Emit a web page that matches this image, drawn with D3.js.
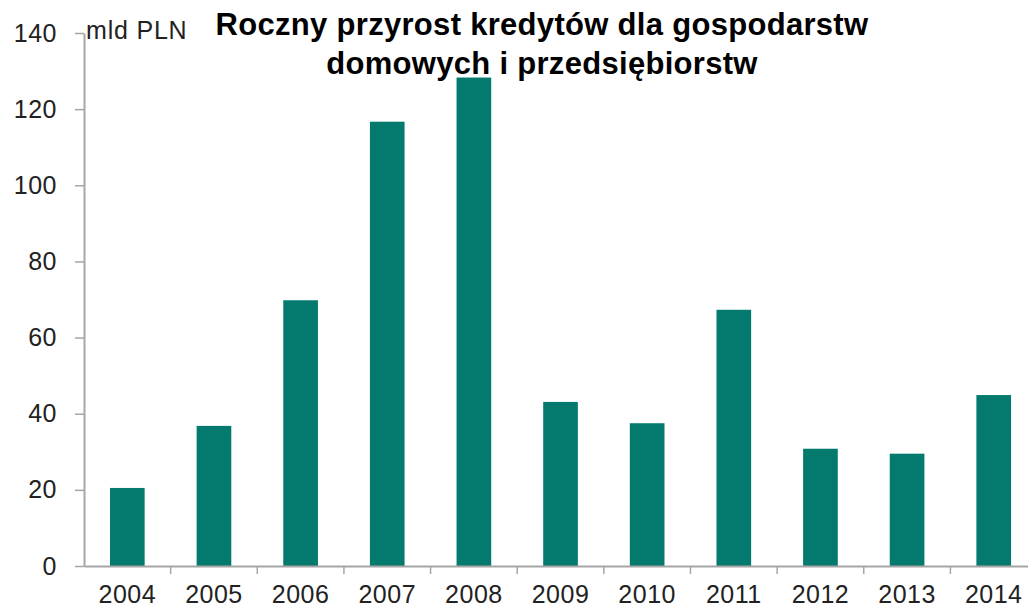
<!DOCTYPE html>
<html>
<head>
<meta charset="utf-8">
<script src="https://cdn.jsdelivr.net/npm/d3@7"></script>
<style>
  body { margin: 0; background: #fff; }
  text { font-family: "Liberation Sans", Arial, sans-serif; }
</style>
</head>
<body>
<div id="chart-area"></div>
<script>
const years = ["2004", "2005", "2006", "2007", "2008", "2009", "2010", "2011", "2012", "2013", "2014"];
const growth = [20.5, 36.8, 69.8, 116.7, 128.3, 43.1, 37.5, 67.3, 30.8, 29.5, 44.9];
const yTicks = [0, 20, 40, 60, 80, 100, 120, 140];
const titleLines = ["Roczny przyrost kredytów dla gospodarstw", "domowych i przedsiębiorstw"];
const unitLabel = "mld PLN";

const WIDTH = 1028;
const HEIGHT = 608;
const margin = { left: 84, top: 33, bottom: 42 };
const plotW = 11 * 86.64;
const plotH = HEIGHT - margin.top - margin.bottom;
const axisColor = "#a6a6a6";
const barColor = "#037a6d";

const svg = d3.select("#chart-area").append("svg").attr("width", WIDTH).attr("height", HEIGHT);
const group = svg.append("g").attr("transform", `translate(${margin.left},${margin.top})`);

const x = d3.scaleBand().domain(years).range([0, plotW]).paddingInner(0.6).paddingOuter(0.3);
const y = d3.scaleLinear().domain([0, 140]).range([plotH, 0]);

// bars
group.selectAll("rect").data(years).enter().append("rect")
    .attr("x", d => x(d))
    .attr("y", (d, i) => y(growth[i]))
    .attr("width", x.bandwidth())
    .attr("height", (d, i) => plotH - y(growth[i]))
    .attr("fill", barColor);

// y axis
const yAxisCall = d3.axisLeft(y).tickValues(yTicks).tickSizeInner(9).tickSizeOuter(0).tickPadding(18);
const yAxis = group.append("g").attr("class", "y axis").call(yAxisCall);
yAxis.select(".domain").attr("stroke", axisColor).attr("stroke-width", 2);
yAxis.selectAll(".tick line").attr("stroke", axisColor).attr("stroke-width", 1.5);
yAxis.selectAll("text").attr("font-size", "25px").attr("fill", "#222")
    .attr("letter-spacing", "0.5px")
    .attr("font-family", "Liberation Sans, Arial, sans-serif");

// x axis: labels in band centres, ticks on category boundaries
const xAxisCall = d3.axisBottom(x).tickSize(0).tickPadding(19);
const xAxis = group.append("g").attr("class", "x axis")
    .attr("transform", `translate(0,${plotH})`)
    .call(xAxisCall);
xAxis.select(".domain").attr("stroke", axisColor).attr("stroke-width", 2);
xAxis.selectAll("text").attr("font-size", "25px").attr("fill", "#222")
    .attr("letter-spacing", "0.5px")
    .attr("font-family", "Liberation Sans, Arial, sans-serif");

const edge = x.step() * x.paddingOuter();
xAxis.selectAll(".bound").data(years).enter().append("line")
    .attr("class", "bound")
    .attr("x1", d => x(d) - edge + x.step())
    .attr("x2", d => x(d) - edge + x.step())
    .attr("y1", 0).attr("y2", 8)
    .attr("stroke", axisColor).attr("stroke-width", 1.5);

// unit label
group.append("text")
    .attr("x", 2).attr("y", 6)
    .attr("font-size", "25px").attr("fill", "#222")
    .attr("letter-spacing", "0.8px")
    .text(unitLabel);

// title
svg.selectAll(".title").data(titleLines).enter().append("text")
    .attr("class", "title")
    .attr("x", 542)
    .attr("y", (d, i) => 35 + i * 39)
    .attr("text-anchor", "middle")
    .attr("font-size", "31px")
    .attr("font-weight", "bold")
    .attr("letter-spacing", "0.3px")
    .attr("fill", "#000")
    .text(d => d);
</script>
</body>
</html>
